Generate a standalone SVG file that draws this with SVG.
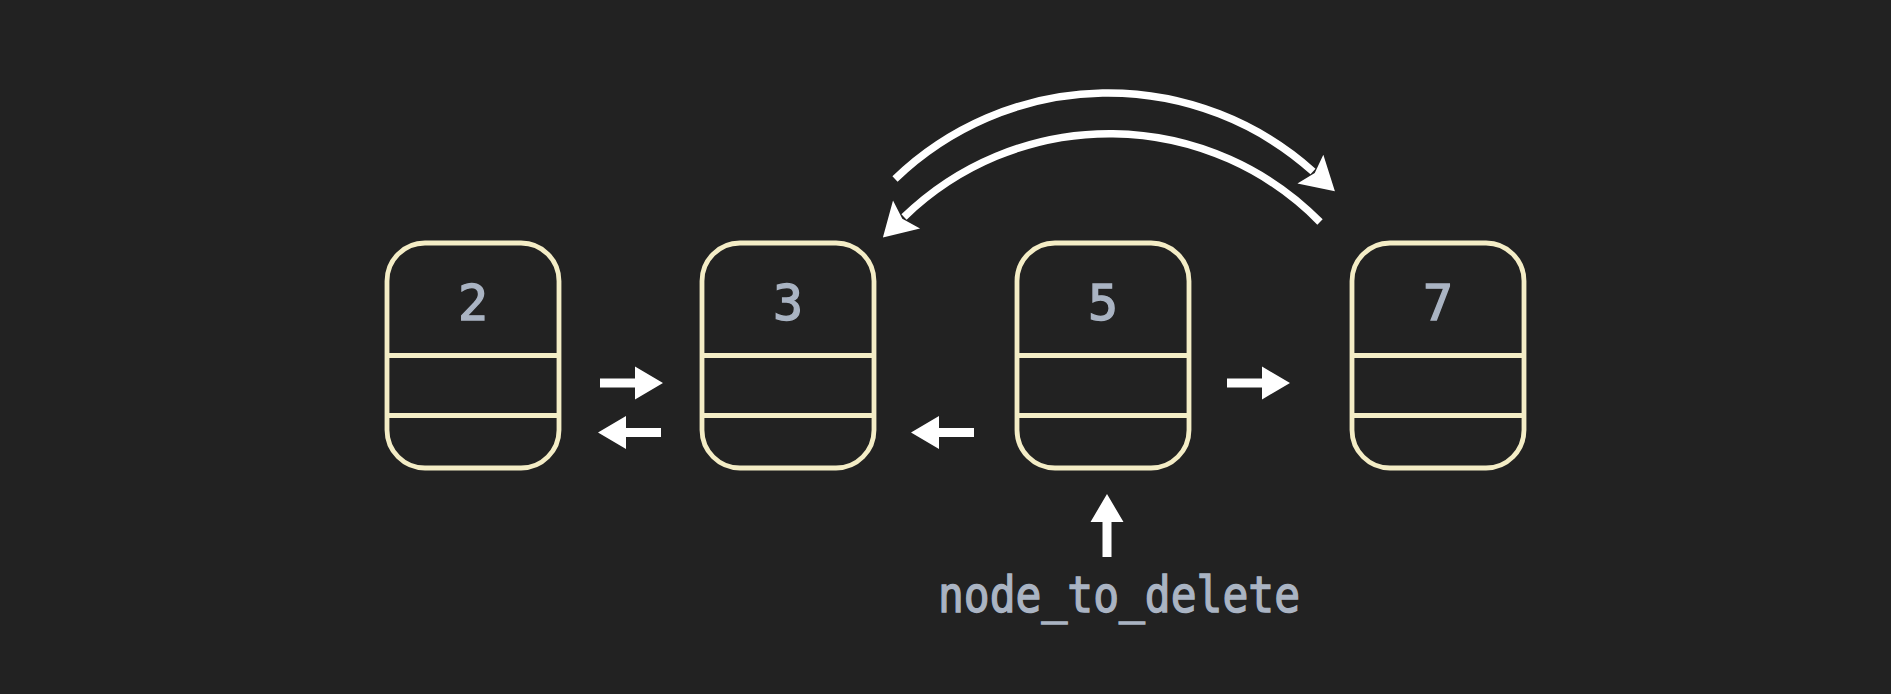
<svg xmlns="http://www.w3.org/2000/svg" width="1891" height="694" viewBox="0 0 1891 694">
  <style>
    .box { fill: #222222; stroke: #f4edc6; stroke-width: 4.8; }
    .div { stroke: #f4edc6; stroke-width: 4.8; }
    .val { font-family: "DejaVu Sans Mono", "Liberation Mono", monospace; font-weight: normal; font-size: 50px; fill: #aab4c3; stroke: #aab4c3; stroke-width: 1.4; text-anchor: middle; }
    .arc { fill: none; stroke: #ffffff; stroke-width: 7.5; }
    .blk { fill: #ffffff; }
  </style>
  <defs>
    <path id="blockArrow" d="M0,-4.5 L35,-4.5 L35,-16.5 L63,0 L35,16.5 L35,4.5 L0,4.5 Z"/>
    <marker id="head" markerUnits="userSpaceOnUse" markerWidth="40" markerHeight="40" viewBox="0 0 30 34" refX="3" refY="17" orient="auto">
      <path d="M0,0.5 L28,17 L0,33.5 L5,17 Z" fill="#ffffff"/>
    </marker>
  </defs>
  <rect x="0" y="0" width="1891" height="694" fill="#222222"/>

  <g id="node-2">
    <rect class="box" x="387" y="243" width="172" height="225" rx="38" ry="38"/>
    <line class="div" x1="389" y1="355.5" x2="557" y2="355.5"/>
    <line class="div" x1="389" y1="415.5" x2="557" y2="415.5"/>
    <text class="val" x="473" y="320">2</text>
  </g>
  <g id="node-3">
    <rect class="box" x="702" y="243" width="172" height="225" rx="38" ry="38"/>
    <line class="div" x1="704" y1="355.5" x2="872" y2="355.5"/>
    <line class="div" x1="704" y1="415.5" x2="872" y2="415.5"/>
    <text class="val" x="788" y="320">3</text>
  </g>
  <g id="node-5">
    <rect class="box" x="1017" y="243" width="172" height="225" rx="38" ry="38"/>
    <line class="div" x1="1019" y1="355.5" x2="1187" y2="355.5"/>
    <line class="div" x1="1019" y1="415.5" x2="1187" y2="415.5"/>
    <text class="val" x="1103" y="320">5</text>
  </g>
  <g id="node-7">
    <rect class="box" x="1352" y="243" width="172" height="225" rx="38" ry="38"/>
    <line class="div" x1="1354" y1="355.5" x2="1522" y2="355.5"/>
    <line class="div" x1="1354" y1="415.5" x2="1522" y2="415.5"/>
    <text class="val" x="1438" y="320">7</text>
  </g>

  <g id="label-node_to_delete">
    <text class="val" x="1119" y="612" textLength="362" lengthAdjust="spacingAndGlyphs">node_to_delete</text>
  </g>

  <g id="connectors">
    <use href="#blockArrow" class="blk" transform="translate(600,383)"/>
    <use href="#blockArrow" class="blk" transform="translate(661,432.5) rotate(180)"/>
    <use href="#blockArrow" class="blk" transform="translate(974,432.5) rotate(180)"/>
    <use href="#blockArrow" class="blk" transform="translate(1227,383)"/>
    <use href="#blockArrow" class="blk" transform="translate(1107,557) rotate(-90)"/>
    <path class="arc" d="M895,179 A307,307 0 0 1 1313,171.5" marker-end="url(#head)"/>
    <path class="arc" d="M1320,222 A295,295 0 0 0 904,217" marker-end="url(#head)"/>
  </g>
</svg>
